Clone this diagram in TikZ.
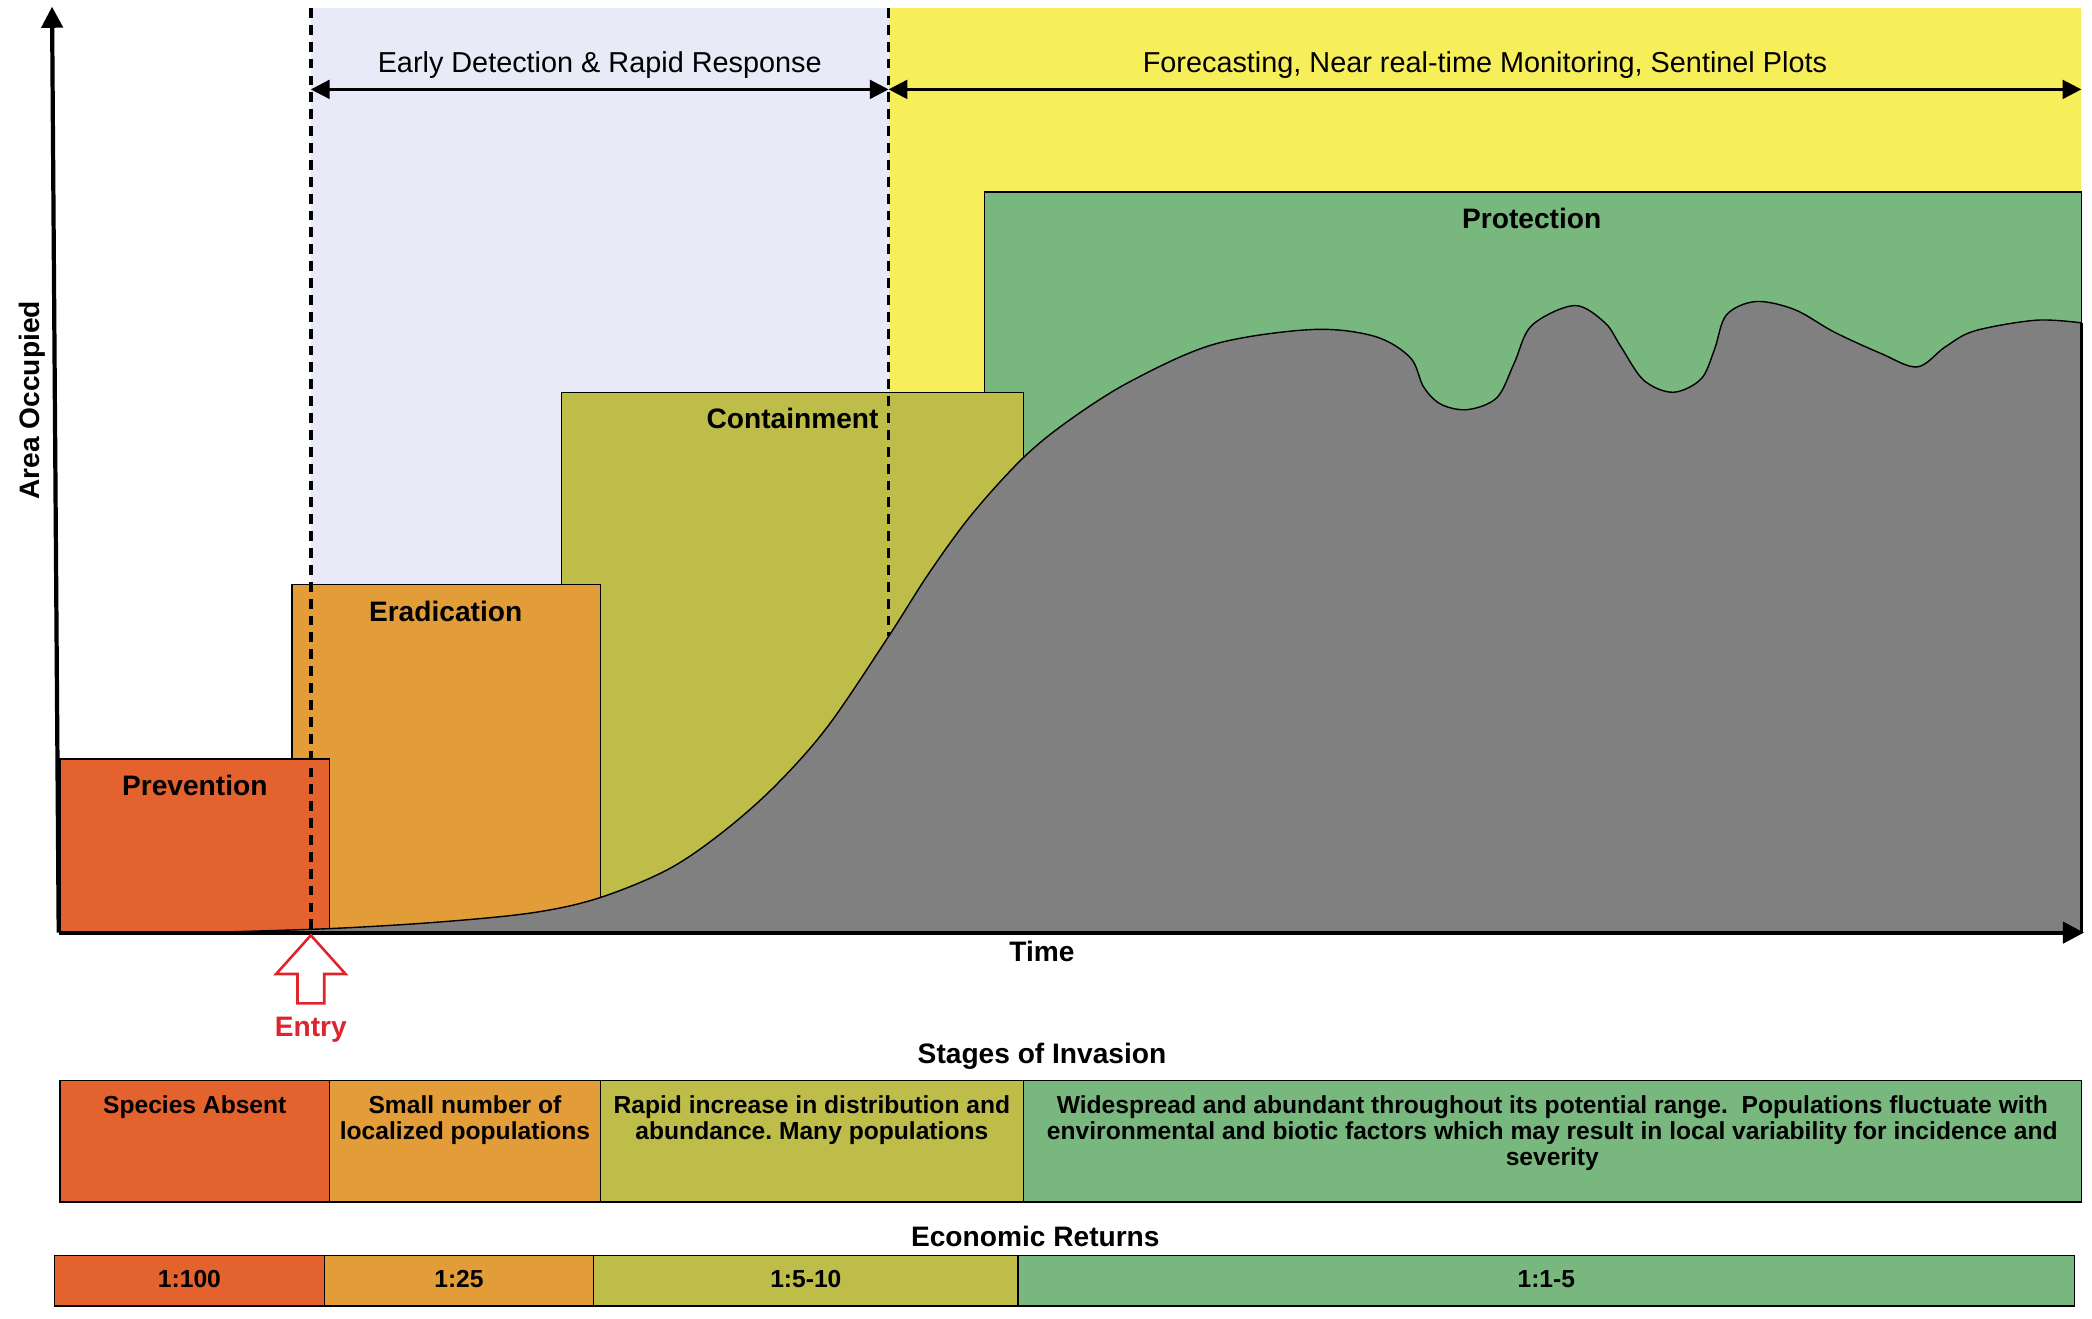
\documentclass[tikz,border=0pt]{standalone}
\usepackage{fontspec}
\setmainfont{Liberation Sans}
\usetikzlibrary{arrows.meta}
\frenchspacing

\definecolor{prevcol}{RGB}{227,98,45}
\definecolor{eradcol}{RGB}{227,157,56}
\definecolor{contcol}{RGB}{191,189,74}
\definecolor{protcol}{RGB}{120,183,126}
\definecolor{yellowbg}{RGB}{247,239,90}
\definecolor{lavenderbg}{RGB}{232,234,248}
\definecolor{areagray}{RGB}{128,128,128}
\definecolor{entryred}{RGB}{222,37,45}

\tikzset{
	box/.style={draw=black, line width=0.6pt},
	boxlabel/.style={inner sep=0pt, font=\fontsize{12}{14}\selectfont\bfseries},
	celltext/.style={inner sep=0pt, anchor=north, align=center, font=\fontsize{10.5}{11.1}\selectfont\bfseries},
	heading/.style={inner sep=0pt, font=\fontsize{12}{14}\selectfont\bfseries},
	spanarrow/.style={line width=1.2pt, {Triangle[length=8pt,width=8pt]}-{Triangle[length=8pt,width=8pt]}},
	spanlabel/.style={inner sep=0pt, above=4pt, font=\fontsize{12.3}{14}\selectfont},
	axisline/.style={line width=1.8pt, -{Triangle[length=9pt,width=9pt]}},
	stagesep/.style={line width=1.4pt, dash pattern=on 4.2pt off 3pt}
}

\begin{document}
\begin{tikzpicture}[x=0.02cm, y=-0.02cm]

			\useasboundingbox (0,0) rectangle (1568,988);

			\fill [lavenderbg] (233,6) rectangle (666,699);
			\fill [yellowbg] (666,6) rectangle (1560,699);

			\draw [box, fill=protcol] (738,144) rectangle (1560,698);
			\draw [box, fill=contcol] (421,294) rectangle (767,698);
			\draw [box, fill=eradcol] (219,438) rectangle (450,698);
			\draw [box, fill=prevcol] (45,569) rectangle (247,698);

			\filldraw [areagray, draw=black, line width=0.6pt] (150,699) -- plot [smooth, tension=0.55] coordinates {
				(150,699) (247,696) (330,691) (400,684) (449,673) (500,652) (540,625) (580,590) (620,545) (666,477) (696,430) (728,386) (766,344) (800,316) (847,286) (910,258) (983,247) (1030,252) (1057,268) (1067,290) (1080,303) (1100,307) (1122,298) (1135,272) (1148,244) (1180,229) (1203,242) (1215,260) (1232,285) (1254,294) (1275,284) (1285,262) (1294,236) (1316,226) (1345,232) (1375,249) (1410,265) (1437,275) (1458,260) (1480,248) (1526,240) (1560,242)
			} -- (1560,699) -- cycle;
			\draw [line width=1.2pt] (1560,242) -- (1560,699);

			\coordinate (edstart) at (233,67);
			\coordinate (edend) at (666,67);
			\coordinate (fcend) at (1560,67);
			\coordinate (entrytop) at (233,6);
			\coordinate (entrybottom) at (233,699);
			\coordinate (fctop) at (666,6);
			\coordinate (fcbottom) at (666,477);

			\draw [stagesep] (entrytop) -- (entrybottom);
			\draw [stagesep] (fctop) -- (fcbottom);

			\draw [spanarrow] (edstart) -- (edend) node [spanlabel, midway] (edlabel) {Early Detection \& Rapid Response};
			\draw [spanarrow] (edend) -- (fcend) node [spanlabel, midway] (fclabel) {Forecasting, Near real-time Monitoring, Sentinel Plots};

			\coordinate (origin) at (44,699);
			\coordinate (ytip) at (39,5);
			\coordinate (xtip) at (1562,699);
			\draw [axisline] (origin) -- (ytip);
			\draw [axisline] (origin) -- (xtip);

			\node [heading, rotate=90] (ylabel) at (24,300) {Area Occupied};
			\node [heading] (xlabel) at (781,713) {Time};

			\node [boxlabel] (prevlabel) at (146,589) {Prevention};
			\node [boxlabel] (eradlabel) at (334,458) {Eradication};
			\node [boxlabel] (contlabel) at (594,314) {Containment};
			\node [boxlabel] (protlabel) at (1148,164) {Protection};

			\draw [entryred, line width=1.1pt, line join=miter] (233,701) -- (259,730) -- (243,730) -- (243,752) -- (223,752) -- (223,730) -- (207,730) -- cycle;
			\node [heading, text=entryred] (entrylabel) at (233,772) {Entry};

			\node [heading] (stagestitle) at (781,792) {Stages of Invasion};
			\foreach \xa/\xb/\col/\nm/\txt in {45/247/prevcol/absent/{Species Absent}, 247/450/eradcol/small/{Small number of\\localized populations}, 450/767/contcol/rapid/{Rapid increase in distribution and\\abundance. Many populations}, 767/1560/protcol/wide/{Widespread and abundant throughout its potential range.~ Populations fluctuate with\\environmental and biotic factors which may result in local variability for incidence and\\severity}} {
				\draw [box, fill=\col] (\xa,810) rectangle (\xb,901);
				\node [celltext] (stage\nm) at ({(\xa+\xb)/2},821) {\txt};
			}

			\node [heading] (returnstitle) at (776,927) {Economic Returns};
			\foreach \xa/\xb/\col/\nm/\txt in {41/243/prevcol/hundred/{1:100}, 243/445/eradcol/twentyfive/{1:25}, 445/763/contcol/fiveten/{1:5-10}, 763/1555/protcol/onefive/{1:1-5}} {
				\draw [box, fill=\col] (\xa,941) rectangle (\xb,979);
				\node [celltext, anchor=center] (return\nm) at ({(\xa+\xb)/2},959) {\txt};
			}

\end{tikzpicture}
\end{document}
